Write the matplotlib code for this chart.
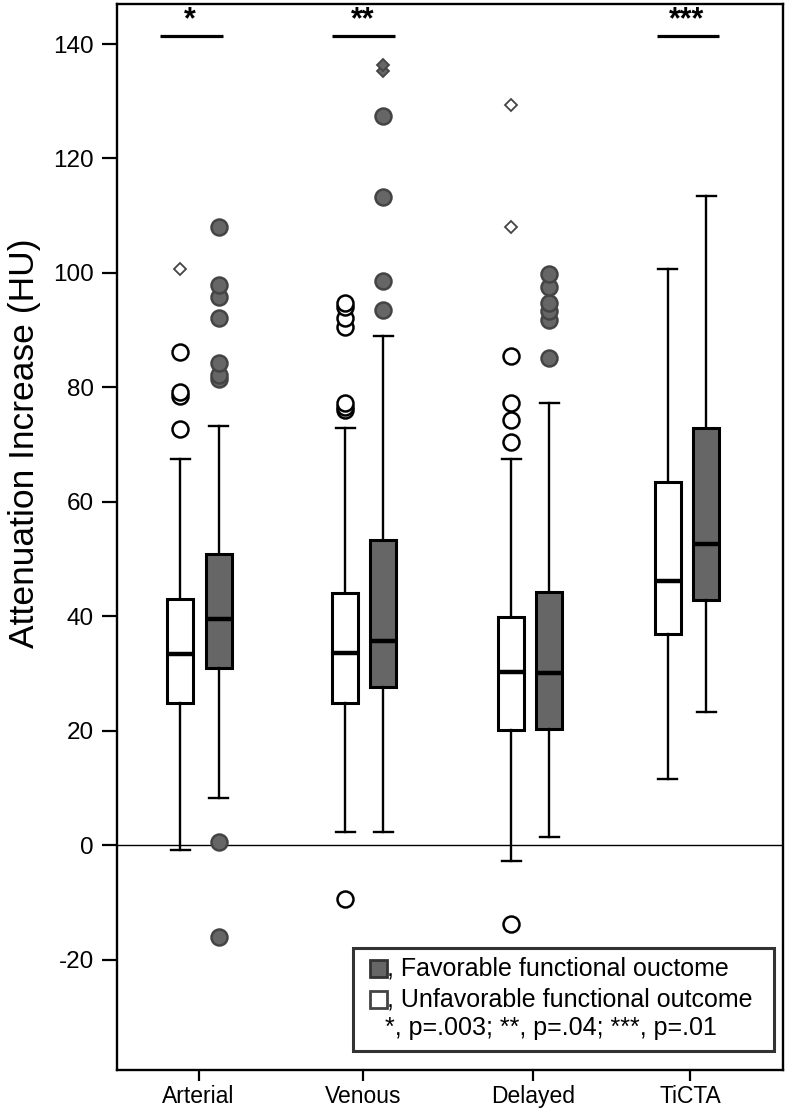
import matplotlib
matplotlib.use("Agg")
import matplotlib.pyplot as plt
from matplotlib.patches import Rectangle

plt.rcParams['font.family'] = ['Liberation Sans', 'DejaVu Sans']

# ---- data ----
groups = ["Arterial", "Venous", "Delayed", "TiCTA"]

unfav_whislo = [-0.8, 2.3, -2.8, 11.6]
unfav_q1 = [24.8, 24.8, 20.2, 36.9]
unfav_med = [33.4, 33.6, 30.3, 46.2]
unfav_q3 = [43.0, 44.1, 39.8, 63.4]
unfav_whishi = [67.5, 72.9, 67.4, 100.7]
unfav_outliers = [[72.7, 78.5, 79.2, 86.1],
                  [76.0, 76.6, 77.2, 90.6, 92.1, 94.0, 94.8, -9.4],
                  [70.5, 74.3, 77.2, 85.4, -13.8],
                  []]
unfav_extremes = [[100.7], [], [108.1, 129.3], []]

fav_whislo = [8.2, 2.3, 1.4, 23.2]
fav_q1 = [30.9, 27.7, 20.3, 42.8]
fav_med = [39.6, 35.7, 30.1, 52.7]
fav_q3 = [50.9, 53.3, 44.3, 72.9]
fav_whishi = [73.3, 89.0, 77.2, 113.4]
fav_outliers = [[81.4, 82.2, 84.2, 92.1, 95.8, 97.9, 108.1, 0.6, -16.1],
                [93.5, 98.6, 113.2, 127.4],
                [85.1, 91.7, 93.4, 94.8, 97.5, 99.8],
                []]
fav_extremes = [[], [135.3, 136.3], [], []]

sig_labels = ["*", "**", "", "***"]
sig_level = 141.4

legend_lines = [", Favorable functional ouctome",
                ", Unfavorable functional outcome",
                "*, p=.003; **, p=.04; ***, p=.01"]

# ---- layout ----
group_pos = [198.5, 363, 533, 690]
unfav_pos = [180, 345, 511, 667.5]
fav_pos = [218.5, 383, 549, 706]
box_w = 26
sig_left_off = [20.5, 13, 0, 11]
sig_right_off = [4, 11.5, 0, 13]

fig = plt.figure(figsize=(7.86, 11.09), dpi=100)
ax = fig.add_axes([117.5 / 786, 1 - 1070 / 1109, (783 - 117.5) / 786, (1070 - 4) / 1109])


def stats(whislo, q1, med, q3, whishi, fl):
    return [dict(whislo=a, q1=b, med=c, q3=d, whishi=e, fliers=f)
            for a, b, c, d, e, f in zip(whislo, q1, med, q3, whishi, fl)]


common = dict(widths=box_w, patch_artist=True, showfliers=True, manage_ticks=False,
              whiskerprops=dict(color='black', lw=1.7),
              capprops=dict(color='black', lw=1.7),
              medianprops=dict(color='black', lw=3.2))

ax.bxp(stats(unfav_whislo, unfav_q1, unfav_med, unfav_q3, unfav_whishi, unfav_outliers),
       positions=unfav_pos,
       boxprops=dict(facecolor='white', edgecolor='black', lw=2.2),
       flierprops=dict(marker='o', markersize=11.5, markerfacecolor='white',
                       markeredgecolor='black', markeredgewidth=1.8),
       capwidths=19, **common)
ax.bxp(stats(fav_whislo, fav_q1, fav_med, fav_q3, fav_whishi, fav_outliers),
       positions=fav_pos,
       boxprops=dict(facecolor='#666666', edgecolor='black', lw=2.2),
       flierprops=dict(marker='o', markersize=11.5, markerfacecolor='#666666',
                       markeredgecolor='#444444', markeredgewidth=1.8),
       capwidths=19, **common)

for p, ex in zip(unfav_pos, unfav_extremes):
    if ex:
        ax.plot([p] * len(ex), ex, linestyle='none', marker='D', markersize=6.5,
                markerfacecolor='white', markeredgecolor='#444444', markeredgewidth=1.3)
for p, ex in zip(fav_pos, fav_extremes):
    if ex:
        ax.plot([p] * len(ex), ex, linestyle='none', marker='D', markersize=6.5,
                markerfacecolor='#666666', markeredgecolor='#444444', markeredgewidth=1.3)

ax.axhline(0, color='black', lw=1.0, zorder=0)

for up, fp, lo, ro, s in zip(unfav_pos, fav_pos, sig_left_off, sig_right_off, sig_labels):
    if s:
        x0, x1 = up - lo, fp + ro
        ax.plot([x0, x1], [sig_level, sig_level], color='black', lw=2.3,
                solid_capstyle='butt')
        ax.text((x0 + x1) / 2 - 1, sig_level + 0.1, s, ha='center', va='bottom',
                fontsize=22, fontweight='bold')

ax.set_xlim(117.5, 783)
ax.set_ylim(-39.3, 147.0)
ax.set_xticks(group_pos)
ax.set_xticklabels(groups, fontsize=16.5)
ax.set_yticks(range(-20, 141, 20))
ax.set_yticklabels([str(v) for v in range(-20, 141, 20)], fontsize=17.5)
ax.tick_params(axis='y', direction='out', length=11, width=1.6, pad=6)
ax.tick_params(axis='x', direction='out', length=8, width=1.6, pad=3)
for sp in ax.spines.values():
    sp.set_linewidth(1.7)
ax.set_ylabel("Attenuation Increase (HU)", fontsize=25.5)
ax.yaxis.set_label_coords(-0.115, 0.588)

# legend box
lx0, lx1 = 352.5, 773.5
ly_top, ly_bot = -17.9, -36.0
ax.add_patch(Rectangle((lx0, ly_bot), lx1 - lx0, ly_top - ly_bot, facecolor='white',
                       edgecolor='#333333', lw=2.2, zorder=5))
sq_x = 369.5
sq_w = 17
row_y = [-21.5, -27.0, -32.0]
sq_h = sq_w / 5.72
ax.add_patch(Rectangle((sq_x, row_y[0] - sq_h / 2), sq_w, sq_h, facecolor='#666666',
                       edgecolor='#333333', lw=2.0, zorder=6))
ax.add_patch(Rectangle((sq_x, row_y[1] - sq_h / 2), sq_w, sq_h, facecolor='white',
                       edgecolor='#444444', lw=2.0, zorder=6))
ax.text(sq_x + sq_w + 0.5, row_y[0], legend_lines[0], fontsize=18, va='center', ha='left', zorder=7)
ax.text(sq_x + sq_w + 0.5, row_y[1], legend_lines[1], fontsize=18, va='center', ha='left', zorder=7)
ax.text(551, row_y[2], legend_lines[2], fontsize=18, va='center', ha='center', zorder=7)

fig.savefig("out.png", dpi=100)
